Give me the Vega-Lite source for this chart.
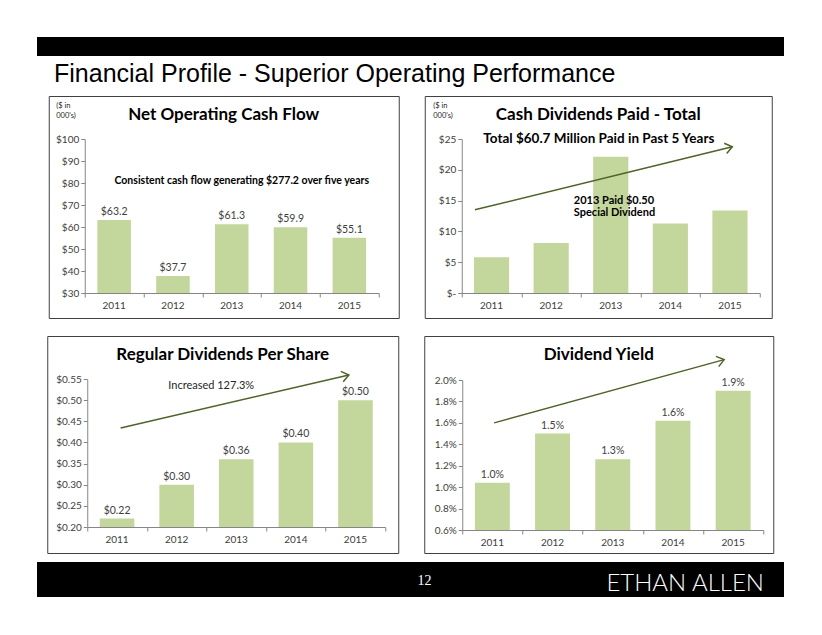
{
  "$schema": "https://vega.github.io/schema/vega-lite/v6.json",
  "padding": {"top": 37, "left": 37, "right": 0, "bottom": 0},
  "background": "#ffffff",
  "config": {
    "font": "Lato",
    "view": {"stroke": null},
    "axis": {"labelFont": "Lato", "labelFontSize": 10, "labelColor": "#404040", "domainColor": "#868686", "tickColor": "#868686", "tickSize": 4, "grid": false, "titleFont": "Lato", "titleColor": "#262626", "titleFontWeight": "normal", "labelOverlap": false},
    "title": {"font": "Lato", "color": "#000000"}
  },
  "vconcat": [
    {
      "vconcat": [
        {
          "vconcat": [
            {
              "width": 747, "height": 19,
              "view": {"fill": "#000000", "stroke": null},
              "data": {"values": []},
              "mark": "text",
              "title": {"text": "Financial Profile - Superior Operating Performance", "orient": "bottom", "anchor": "start", "offset": 26, "baseline": "alphabetic", "font": "Liberation Sans", "fontSize": 25, "fontWeight": "normal", "color": "#000000", "dx": 17}
            },
            {
              "hconcat": [
                {
                  "width": 350, "height": 222,
                  "view": {"stroke": "#404040", "strokeWidth": 1},
                  "title": {"text": "Net Operating Cash Flow", "orient": "top", "anchor": "middle", "offset": -41, "baseline": "alphabetic", "fontSize": 17, "fontWeight": "bold"},
                  "data": {"values": [
                    {"year": "2011", "value": 63.2},
                    {"year": "2012", "value": 37.7},
                    {"year": "2013", "value": 61.3},
                    {"year": "2014", "value": 59.9},
                    {"year": "2015", "value": 55.1}
                  ]},
                  "resolve": {"scale": {"x": "independent"}},
                  "layer": [
                    {
                      "layer": [
                        {
                          "mark": {"type": "bar", "color": "#c3d69b"},
                          "encoding": {
                            "x": {"field": "year", "type": "ordinal", "scale": {"range": [36, 330], "paddingInner": 0.43, "paddingOuter": 0.215}, "axis": {"title": null, "labelAngle": 0, "offset": -25, "ticks": false, "labelPadding": 7}},
                            "y": {"field": "value", "type": "quantitative", "scale": {"domain": [30, 100], "range": [197, 43]}, "axis": {"values": [30, 40, 50, 60, 70, 80, 90, 100], "labelOverlap": false, "offset": -36, "labelExpr": "'$' + datum.value", "title": ["($ in", "000's)"], "titleAngle": 0, "titleX": -29, "titleY": 5, "titleAlign": "left", "titleBaseline": "top", "titleFontSize": 7.5, "titleLineHeight": 10}},
                            "y2": {"datum": 30}
                          }
                        },
                        {
                          "mark": {"type": "text", "baseline": "bottom", "dy": -3, "fontSize": 10.5, "color": "#404040"},
                          "encoding": {
                            "x": {"field": "year", "type": "ordinal"},
                            "y": {"field": "value", "type": "quantitative", "scale": {"domain": [30, 100], "range": [197, 43]}, "axis": {"values": [30, 40, 50, 60, 70, 80, 90, 100], "labelOverlap": false, "offset": -36, "labelExpr": "'$' + datum.value", "title": ["($ in", "000's)"], "titleAngle": 0, "titleX": -29, "titleY": 5, "titleAlign": "left", "titleBaseline": "top", "titleFontSize": 7.5, "titleLineHeight": 10}},
                            "text": {"field": "value", "type": "quantitative", "format": "$.1f"}
                          }
                        }
                      ]
                    },
                    {
                      "data": {"values": [{}]},
                      "layer": [
                        {
                          "mark": {"type": "text", "fontSize": 10.5, "fontWeight": "bold", "color": "#000000", "baseline": "middle", "align": "center", "text": "Consistent cash flow generating  $277.2 over five years"},
                          "encoding": {
                            "x": {"datum": 2.67, "type": "quantitative", "scale": {"domain": [0, 5], "range": [36, 330]}, "axis": {"orient": "bottom", "offset": -25, "values": [0, 1, 2, 3, 4, 5], "labels": false, "domain": false, "ticks": true, "title": null}},
                            "y": {"datum": 81, "type": "quantitative", "scale": {"domain": [30, 100], "range": [197, 43]}, "axis": {"values": [30, 40, 50, 60, 70, 80, 90, 100], "labelOverlap": false, "offset": -36, "labelExpr": "'$' + datum.value", "title": ["($ in", "000's)"], "titleAngle": 0, "titleX": -29, "titleY": 5, "titleAlign": "left", "titleBaseline": "top", "titleFontSize": 7.5, "titleLineHeight": 10}}
                          }
                        }
                      ]
                    }
                  ]
                },
                {
                  "width": 347, "height": 222,
                  "view": {"stroke": "#404040", "strokeWidth": 1},
                  "title": {"text": "Cash Dividends Paid - Total", "orient": "top", "anchor": "middle", "offset": -41, "baseline": "alphabetic", "fontSize": 17, "fontWeight": "bold"},
                  "data": {"values": [
                    {"year": "2011", "value": 5.8},
                    {"year": "2012", "value": 8.1},
                    {"year": "2013", "value": 22.1},
                    {"year": "2014", "value": 11.3},
                    {"year": "2015", "value": 13.4}
                  ]},
                  "resolve": {"scale": {"x": "independent"}},
                  "layer": [
                    {
                      "mark": {"type": "bar", "color": "#c3d69b"},
                      "encoding": {
                        "x": {"field": "year", "type": "ordinal", "scale": {"range": [37, 335], "paddingInner": 0.41, "paddingOuter": 0.205}, "axis": {"title": null, "labelAngle": 0, "offset": -25, "ticks": false, "labelPadding": 7}},
                        "y": {"field": "value", "type": "quantitative", "scale": {"domain": [0, 25], "range": [197, 43]}, "axis": {"values": [0, 5, 10, 15, 20, 25], "labelOverlap": false, "offset": -37, "labelExpr": "datum.value == 0 ? '$-' : '$' + datum.value", "title": ["($ in", "000's)"], "titleAngle": 0, "titleX": -29, "titleY": 5, "titleAlign": "left", "titleBaseline": "top", "titleFontSize": 7.5, "titleLineHeight": 10}}
                      }
                    },
                    {
                      "data": {"values": [{}]},
                      "layer": [
                        {
                          "mark": {"type": "rule", "color": "#4f6228", "strokeWidth": 1.5},
                          "encoding": {
                            "x": {"datum": 0.22, "type": "quantitative", "scale": {"domain": [0, 5], "range": [37, 335]}, "axis": {"orient": "bottom", "offset": -25, "values": [0, 1, 2, 3, 4, 5], "labels": false, "domain": false, "ticks": true, "title": null}},
                            "x2": {"datum": 4.54},
                            "y": {"datum": 13.5, "type": "quantitative", "scale": {"domain": [0, 25], "range": [197, 43]}, "axis": {"values": [0, 5, 10, 15, 20, 25], "labelOverlap": false, "offset": -37, "labelExpr": "datum.value == 0 ? '$-' : '$' + datum.value", "title": ["($ in", "000's)"], "titleAngle": 0, "titleX": -29, "titleY": 5, "titleAlign": "left", "titleBaseline": "top", "titleFontSize": 7.5, "titleLineHeight": 10}},
                            "y2": {"datum": 23.75}
                          }
                        },
                        {
                          "mark": {"type": "point", "shape": "M-1,-0.75L0,0L-1,0.75", "filled": false, "stroke": "#4f6228", "strokeWidth": 1.5, "size": 200, "angle": -13.8, "opacity": 1},
                          "encoding": {
                            "x": {"datum": 4.54, "type": "quantitative", "scale": {"domain": [0, 5], "range": [37, 335]}, "axis": {"orient": "bottom", "offset": -25, "values": [0, 1, 2, 3, 4, 5], "labels": false, "domain": false, "ticks": true, "title": null}},
                            "y": {"datum": 23.75, "type": "quantitative", "scale": {"domain": [0, 25], "range": [197, 43]}, "axis": {"values": [0, 5, 10, 15, 20, 25], "labelOverlap": false, "offset": -37, "labelExpr": "datum.value == 0 ? '$-' : '$' + datum.value", "title": ["($ in", "000's)"], "titleAngle": 0, "titleX": -29, "titleY": 5, "titleAlign": "left", "titleBaseline": "top", "titleFontSize": 7.5, "titleLineHeight": 10}}
                          }
                        },
                        {
                          "mark": {"type": "text", "fontSize": 13.5, "fontWeight": "bold", "color": "#000000", "baseline": "middle", "align": "center", "text": "Total $60.7 Million Paid in Past 5 Years"},
                          "encoding": {
                            "x": {"datum": 2.3, "type": "quantitative", "scale": {"domain": [0, 5], "range": [37, 335]}, "axis": {"orient": "bottom", "offset": -25, "values": [0, 1, 2, 3, 4, 5], "labels": false, "domain": false, "ticks": true, "title": null}},
                            "y": {"datum": 25, "type": "quantitative", "scale": {"domain": [0, 25], "range": [197, 43]}, "axis": {"values": [0, 5, 10, 15, 20, 25], "labelOverlap": false, "offset": -37, "labelExpr": "datum.value == 0 ? '$-' : '$' + datum.value", "title": ["($ in", "000's)"], "titleAngle": 0, "titleX": -29, "titleY": 5, "titleAlign": "left", "titleBaseline": "top", "titleFontSize": 7.5, "titleLineHeight": 10}}
                          }
                        },
                        {
                          "mark": {"type": "text", "fontSize": 11, "fontWeight": "bold", "color": "#000000", "baseline": "middle", "align": "left", "text": "2013 Paid $0.50"},
                          "encoding": {
                            "x": {"datum": 1.88, "type": "quantitative", "scale": {"domain": [0, 5], "range": [37, 335]}, "axis": {"orient": "bottom", "offset": -25, "values": [0, 1, 2, 3, 4, 5], "labels": false, "domain": false, "ticks": true, "title": null}},
                            "y": {"datum": 15.0, "type": "quantitative", "scale": {"domain": [0, 25], "range": [197, 43]}, "axis": {"values": [0, 5, 10, 15, 20, 25], "labelOverlap": false, "offset": -37, "labelExpr": "datum.value == 0 ? '$-' : '$' + datum.value", "title": ["($ in", "000's)"], "titleAngle": 0, "titleX": -29, "titleY": 5, "titleAlign": "left", "titleBaseline": "top", "titleFontSize": 7.5, "titleLineHeight": 10}}
                          }
                        },
                        {
                          "mark": {"type": "text", "fontSize": 11, "fontWeight": "bold", "color": "#000000", "baseline": "middle", "align": "left", "text": "Special Dividend"},
                          "encoding": {
                            "x": {"datum": 1.88, "type": "quantitative", "scale": {"domain": [0, 5], "range": [37, 335]}, "axis": {"orient": "bottom", "offset": -25, "values": [0, 1, 2, 3, 4, 5], "labels": false, "domain": false, "ticks": true, "title": null}},
                            "y": {"datum": 12.95, "type": "quantitative", "scale": {"domain": [0, 25], "range": [197, 43]}, "axis": {"values": [0, 5, 10, 15, 20, 25], "labelOverlap": false, "offset": -37, "labelExpr": "datum.value == 0 ? '$-' : '$' + datum.value", "title": ["($ in", "000's)"], "titleAngle": 0, "titleX": -29, "titleY": 5, "titleAlign": "left", "titleBaseline": "top", "titleFontSize": 7.5, "titleLineHeight": 10}}
                          }
                        }
                      ]
                    }
                  ]
                }
              ],
              "spacing": 24
            }
          ],
          "spacing": 8,
          "center": true
        },
        {
          "hconcat": [
            {
              "width": 351, "height": 217,
              "view": {"stroke": "#404040", "strokeWidth": 1},
              "title": {"text": "Regular Dividends Per Share", "orient": "top", "anchor": "middle", "offset": -41, "baseline": "alphabetic", "fontSize": 17, "fontWeight": "bold"},
              "data": {"values": [
                {"year": "2011", "value": 0.22},
                {"year": "2012", "value": 0.30},
                {"year": "2013", "value": 0.36},
                {"year": "2014", "value": 0.40},
                {"year": "2015", "value": 0.50}
              ]},
              "resolve": {"scale": {"x": "independent"}},
              "layer": [
                {
                  "layer": [
                    {
                      "mark": {"type": "bar", "color": "#c3d69b"},
                      "encoding": {
                        "x": {"field": "year", "type": "ordinal", "scale": {"range": [40, 338], "paddingInner": 0.42, "paddingOuter": 0.21}, "axis": {"title": null, "labelAngle": 0, "offset": -26, "ticks": false, "labelPadding": 7}},
                        "y": {"field": "value", "type": "quantitative", "scale": {"domain": [0.2, 0.55], "range": [191, 43]}, "axis": {"values": [0.2, 0.25, 0.3, 0.35, 0.4, 0.45, 0.5, 0.55], "labelOverlap": false, "offset": -40, "labelExpr": "'$' + format(datum.value, '.2f')", "title": null}},
                        "y2": {"datum": 0.2}
                      }
                    },
                    {
                      "mark": {"type": "text", "baseline": "bottom", "dy": -3, "fontSize": 10.5, "color": "#404040"},
                      "encoding": {
                        "x": {"field": "year", "type": "ordinal"},
                        "y": {"field": "value", "type": "quantitative", "scale": {"domain": [0.2, 0.55], "range": [191, 43]}, "axis": {"values": [0.2, 0.25, 0.3, 0.35, 0.4, 0.45, 0.5, 0.55], "labelOverlap": false, "offset": -40, "labelExpr": "'$' + format(datum.value, '.2f')", "title": null}},
                        "text": {"field": "value", "type": "quantitative", "format": "$.2f"}
                      }
                    }
                  ]
                },
                {
                  "data": {"values": [{}]},
                  "layer": [
                    {
                      "mark": {"type": "rule", "color": "#4f6228", "strokeWidth": 1.5},
                      "encoding": {
                        "x": {"datum": 0.56, "type": "quantitative", "scale": {"domain": [0, 5], "range": [40, 338]}, "axis": {"orient": "bottom", "offset": -26, "values": [0, 1, 2, 3, 4, 5], "labels": false, "domain": false, "ticks": true, "title": null}},
                        "x2": {"datum": 4.39},
                        "y": {"datum": 0.434, "type": "quantitative", "scale": {"domain": [0.2, 0.55], "range": [191, 43]}, "axis": {"values": [0.2, 0.25, 0.3, 0.35, 0.4, 0.45, 0.5, 0.55], "labelOverlap": false, "offset": -40, "labelExpr": "'$' + format(datum.value, '.2f')", "title": null}},
                        "y2": {"datum": 0.5595}
                      }
                    },
                    {
                      "mark": {"type": "point", "shape": "M-1,-0.75L0,0L-1,0.75", "filled": false, "stroke": "#4f6228", "strokeWidth": 1.5, "size": 200, "angle": -13.1, "opacity": 1},
                      "encoding": {
                        "x": {"datum": 4.39, "type": "quantitative", "scale": {"domain": [0, 5], "range": [40, 338]}, "axis": {"orient": "bottom", "offset": -26, "values": [0, 1, 2, 3, 4, 5], "labels": false, "domain": false, "ticks": true, "title": null}},
                        "y": {"datum": 0.5595, "type": "quantitative", "scale": {"domain": [0.2, 0.55], "range": [191, 43]}, "axis": {"values": [0.2, 0.25, 0.3, 0.35, 0.4, 0.45, 0.5, 0.55], "labelOverlap": false, "offset": -40, "labelExpr": "'$' + format(datum.value, '.2f')", "title": null}}
                      }
                    },
                    {
                      "mark": {"type": "text", "fontSize": 11, "color": "#262626", "baseline": "middle", "align": "center", "text": "Increased 127.3%"},
                      "encoding": {
                        "x": {"datum": 2.08, "type": "quantitative", "scale": {"domain": [0, 5], "range": [40, 338]}, "axis": {"orient": "bottom", "offset": -26, "values": [0, 1, 2, 3, 4, 5], "labels": false, "domain": false, "ticks": true, "title": null}},
                        "y": {"datum": 0.534, "type": "quantitative", "scale": {"domain": [0.2, 0.55], "range": [191, 43]}, "axis": {"values": [0.2, 0.25, 0.3, 0.35, 0.4, 0.45, 0.5, 0.55], "labelOverlap": false, "offset": -40, "labelExpr": "'$' + format(datum.value, '.2f')", "title": null}}
                      }
                    }
                  ]
                }
              ]
            },
            {
              "width": 349, "height": 217,
              "view": {"stroke": "#404040", "strokeWidth": 1},
              "title": {"text": "Dividend Yield", "orient": "top", "anchor": "middle", "offset": -41, "baseline": "alphabetic", "fontSize": 17, "fontWeight": "bold"},
              "data": {"values": [
                {"year": "2011", "value": 0.0104},
                {"year": "2012", "value": 0.0150},
                {"year": "2013", "value": 0.0126},
                {"year": "2014", "value": 0.0162},
                {"year": "2015", "value": 0.0190}
              ]},
              "resolve": {"scale": {"x": "independent"}},
              "layer": [
                {
                  "layer": [
                    {
                      "mark": {"type": "bar", "color": "#c3d69b"},
                      "encoding": {
                        "x": {"field": "year", "type": "ordinal", "scale": {"range": [38, 339], "paddingInner": 0.42, "paddingOuter": 0.21}, "axis": {"title": null, "labelAngle": 0, "offset": -23, "ticks": false, "labelPadding": 7}},
                        "y": {"field": "value", "type": "quantitative", "scale": {"domain": [0.006, 0.02], "range": [194, 44]}, "axis": {"values": [0.006, 0.008, 0.01, 0.012, 0.014, 0.016, 0.018, 0.02], "labelOverlap": false, "offset": -38, "labelExpr": "format(datum.value, '.1%')", "title": null}},
                        "y2": {"datum": 0.006}
                      }
                    },
                    {
                      "mark": {"type": "text", "baseline": "bottom", "dy": -3, "fontSize": 10.5, "color": "#404040"},
                      "encoding": {
                        "x": {"field": "year", "type": "ordinal"},
                        "y": {"field": "value", "type": "quantitative", "scale": {"domain": [0.006, 0.02], "range": [194, 44]}, "axis": {"values": [0.006, 0.008, 0.01, 0.012, 0.014, 0.016, 0.018, 0.02], "labelOverlap": false, "offset": -38, "labelExpr": "format(datum.value, '.1%')", "title": null}},
                        "text": {"field": "value", "type": "quantitative", "format": ".1%"}
                      }
                    }
                  ]
                },
                {
                  "data": {"values": [{}]},
                  "layer": [
                    {
                      "mark": {"type": "rule", "color": "#4f6228", "strokeWidth": 1.5},
                      "encoding": {
                        "x": {"datum": 0.53, "type": "quantitative", "scale": {"domain": [0, 5], "range": [38, 339]}, "axis": {"orient": "bottom", "offset": -23, "values": [0, 1, 2, 3, 4, 5], "labels": false, "domain": false, "ticks": true, "title": null}},
                        "x2": {"datum": 4.35},
                        "y": {"datum": 0.016, "type": "quantitative", "scale": {"domain": [0.006, 0.02], "range": [194, 44]}, "axis": {"values": [0.006, 0.008, 0.01, 0.012, 0.014, 0.016, 0.018, 0.02], "labelOverlap": false, "offset": -38, "labelExpr": "format(datum.value, '.1%')", "title": null}},
                        "y2": {"datum": 0.0219}
                      }
                    },
                    {
                      "mark": {"type": "point", "shape": "M-1,-0.75L0,0L-1,0.75", "filled": false, "stroke": "#4f6228", "strokeWidth": 1.5, "size": 200, "angle": -15.4, "opacity": 1},
                      "encoding": {
                        "x": {"datum": 4.35, "type": "quantitative", "scale": {"domain": [0, 5], "range": [38, 339]}, "axis": {"orient": "bottom", "offset": -23, "values": [0, 1, 2, 3, 4, 5], "labels": false, "domain": false, "ticks": true, "title": null}},
                        "y": {"datum": 0.0219, "type": "quantitative", "scale": {"domain": [0.006, 0.02], "range": [194, 44]}, "axis": {"values": [0.006, 0.008, 0.01, 0.012, 0.014, 0.016, 0.018, 0.02], "labelOverlap": false, "offset": -38, "labelExpr": "format(datum.value, '.1%')", "title": null}}
                      }
                    }
                  ]
                }
              ]
            }
          ],
          "spacing": 24
        }
      ],
      "spacing": 16,
      "center": true
    },
    {
      "width": 747, "height": 35,
      "view": {"fill": "#000000", "stroke": null},
      "data": {"values": [{"page": "12"}]},
      "mark": {"type": "text", "color": "#ffffff", "font": "Liberation Serif", "fontSize": 14, "dx": 14, "dy": 1, "baseline": "middle"},
      "encoding": {"text": {"field": "page", "type": "nominal"}},
      "title": {"text": "ETHAN ALLEN", "orient": "bottom", "anchor": "end", "offset": -6.5, "baseline": "alphabetic", "color": "#ffffff", "font": "Lato", "fontWeight": 300, "fontSize": 24, "dx": -20}
    }
  ],
  "spacing": 8,
  "center": true
}
